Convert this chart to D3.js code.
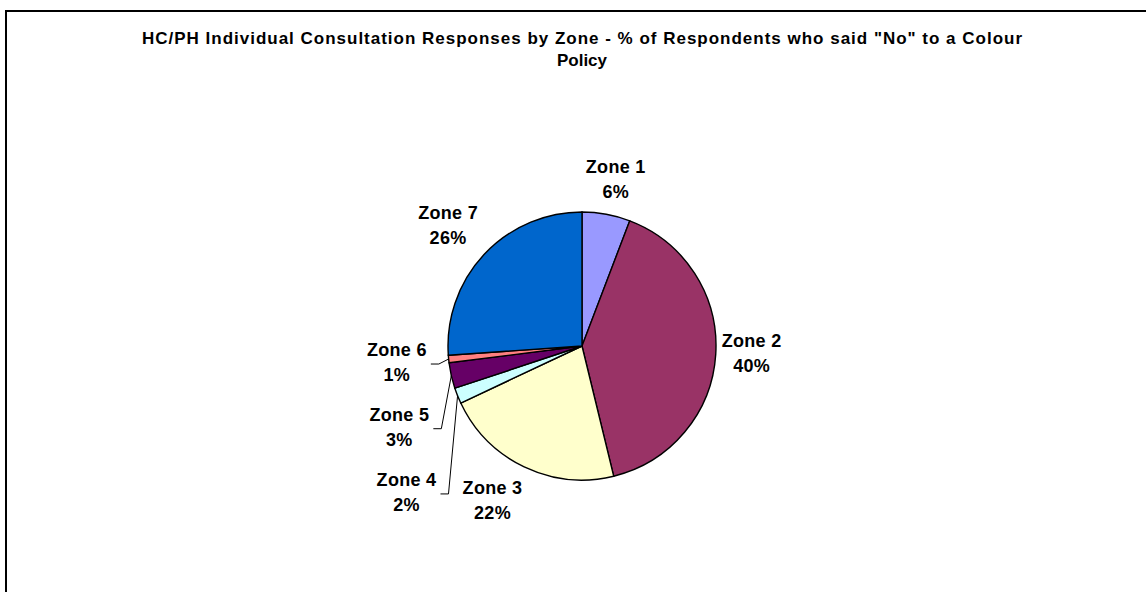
<!DOCTYPE html>
<html>
<head>
<meta charset="utf-8">
<script src="https://cdn.jsdelivr.net/npm/d3@7"></script>
<style>
  body { margin: 0; background: #fff; }
  svg { display: block; font-family: "Liberation Sans", Arial, sans-serif; }
</style>
</head>
<body>
<svg id="chart" width="1146" height="592"></svg>
<script>
var titleLines = ['HC/PH Individual Consultation Responses by Zone - % of Respondents who said "No" to a Colour', 'Policy'];
var zones = ["Zone 1", "Zone 2", "Zone 3", "Zone 4", "Zone 5", "Zone 6", "Zone 7"];
var shares = [5.8, 40.4, 21.8, 1.9, 3.1, 0.9, 26.1];
var colours = ["#9999FF", "#993366", "#FFFFCC", "#CCFFFF", "#660066", "#FF8080", "#0066CC"];

// label tweaks (px) off the default spot, small slices get leader lines
var nudge = {
  "Zone 1": [2, 5], "Zone 2": [-5, -4], "Zone 3": [-14, -4],
  "Zone 4": [-13, 81], "Zone 5": [-12, 42], "Zone 6": [-11, -1], "Zone 7": [-6, -2]
};
var withLeader = ["Zone 4", "Zone 5", "Zone 6"];

var svg = d3.select("#chart");
var cx = 582, cy = 346, r = 134, labelR = 175;

// chart frame, runs off the right and bottom
svg.append("rect")
  .attr("x", 6).attr("y", 11)
  .attr("width", 1200).attr("height", 700)
  .attr("fill", "none").attr("stroke", "#000").attr("stroke-width", 2);

var title = svg.append("text")
  .attr("text-anchor", "middle")
  .attr("font-weight", "bold")
  .attr("font-size", 17)
  .attr("fill", "#000");
titleLines.forEach(function(t, i){
  var s = title.append("tspan").attr("x", cx).attr("y", 44 + i * 22).text(t);
  if (i == 0) s.attr("textLength", 880).attr("lengthAdjust", "spacing");
});

var data = zones.map(function(z, i){ return {zone: z, value: shares[i], colour: colours[i]}; });
var total = d3.sum(shares);

var pie = d3.pie().sort(null).value(function(d){ return d.value; });
var arc = d3.arc().innerRadius(0).outerRadius(r);
var arcs = pie(data);

var g = svg.append("g").attr("transform", "translate(" + cx + "," + cy + ")");

g.selectAll("path.slice")
  .data(arcs)
  .enter().append("path")
  .attr("class", "slice")
  .attr("d", arc)
  .attr("fill", function(d){ return d.data.colour; })
  .attr("stroke", "#000")
  .attr("stroke-width", 1.4);

var pct = function(v){ return Math.round(v / total * 100) + "%"; };

arcs.forEach(function(a){
  var mid = (a.startAngle + a.endAngle) / 2;
  var n = nudge[a.data.zone];
  var lx = labelR * Math.sin(mid) + n[0];
  var ly = -labelR * Math.cos(mid) + n[1];

  if (withLeader.indexOf(a.data.zone) >= 0) {
    var px = r * Math.sin(mid), py = -r * Math.cos(mid);
    g.append("polyline")
      .attr("points", [[lx + 34, ly + 2], [lx + 42, ly + 2], [px, py]].map(function(p){ return p.join(","); }).join(" "))
      .attr("fill", "none").attr("stroke", "#000").attr("stroke-width", 1);
  }

  var t = g.append("text")
    .attr("text-anchor", "middle")
    .attr("font-weight", "bold")
    .attr("font-size", 18)
    .attr("letter-spacing", 0.3)
    .attr("fill", "#000");
  t.append("tspan").attr("x", lx).attr("y", ly - 6).text(a.data.zone);
  t.append("tspan").attr("x", lx).attr("y", ly + 19).text(pct(a.data.value));
});
</script>
</body>
</html>
